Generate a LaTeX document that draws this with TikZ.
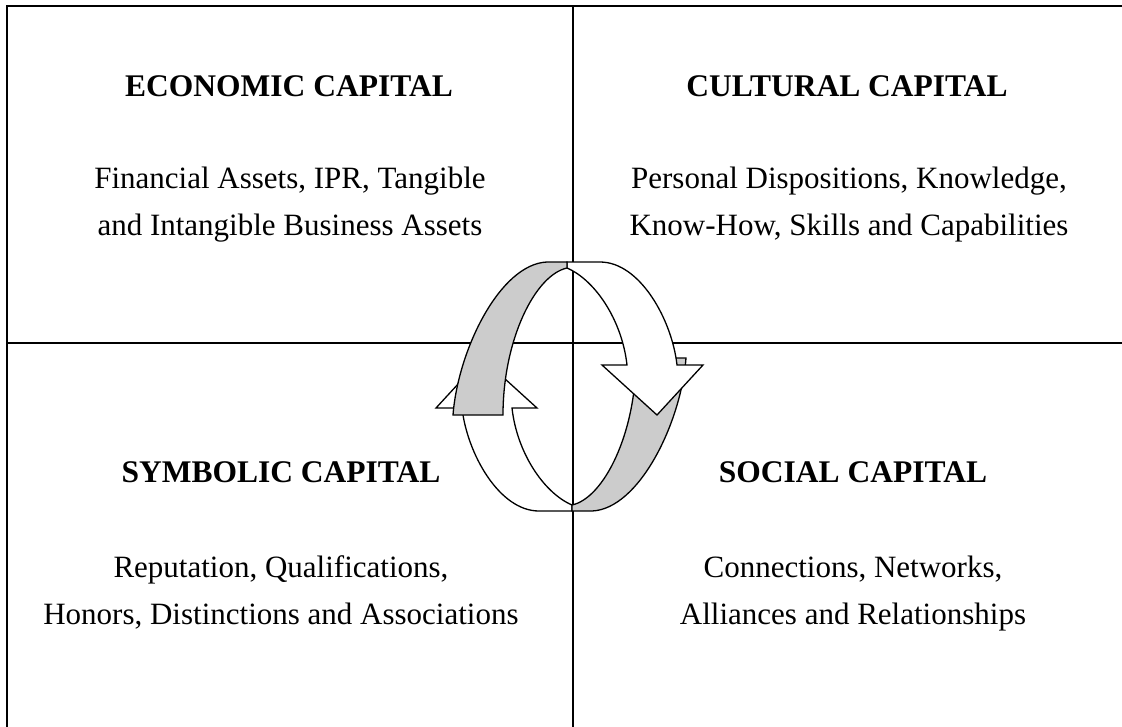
\documentclass[tikz,border=0pt]{standalone}
\usepackage{fontspec}
\setmainfont{Liberation Serif}
\usepackage{xcolor}
\usepackage{tikz}
\definecolor{bandgray}{RGB}{204,204,204}

\begin{document}
\begin{tikzpicture}[x=1pt, y=-1pt, grid/.style={line width=2.2pt}, band/.style={draw, line width=1.3pt, line join=miter}, head/.style={font=\fontsize{31.5}{47}\selectfont\bfseries, anchor=base, inner sep=0pt}, body/.style={font=\fontsize{31}{47}\selectfont, align=center, anchor=base, inner sep=0pt}]
  \useasboundingbox (0,0) rectangle (1122,726);
  % quadrant lines
  \draw[grid] (7,727) -- (7,6) -- (1123,6);
  \draw[grid] (7,343) -- (1123,343);
  \draw[grid] (573,6) -- (573,727);
  % cycle of two arrows
  \foreach \a in {180,0}{
    \begin{scope}[rotate around={\a:(569.5,386.5)}]
      \path[band, fill=white] (567,268) .. controls (595,280) and (622,320) .. (627,365) -- (602,365) -- (657,415) -- (703,365) -- (677,365) .. controls (672,320) and (640,262) .. (600,262) -- (567,262) -- cycle;
      \path[band, fill=bandgray] (453,415) .. controls (458,350) and (500,264) .. (547,262) -- (567,262) -- (567,268) .. controls (535,275) and (503,340) .. (503,415) -- cycle;
    \end{scope}
  }
  % labels
  \node[head] (econ) at (289,96) {ECONOMIC CAPITAL};
  \node[body] (econtxt) at (290,235) {Financial Assets, IPR, Tangible\\and Intangible Business Assets};
  \node[head] (cult) at (847,96) {CULTURAL CAPITAL};
  \node[body] (culttxt) at (849,235) {Personal Dispositions, Knowledge,\\Know-How, Skills and Capabilities};
  \node[head] (symb) at (281,482) {SYMBOLIC CAPITAL};
  \node[body] (symbtxt) at (281,624) {Reputation, Qualifications,\\Honors, Distinctions and Associations};
  \node[head] (soc) at (853,482) {SOCIAL CAPITAL};
  \node[body] (soctxt) at (853,624) {Connections, Networks,\\Alliances and Relationships};
\end{tikzpicture}
\end{document}
